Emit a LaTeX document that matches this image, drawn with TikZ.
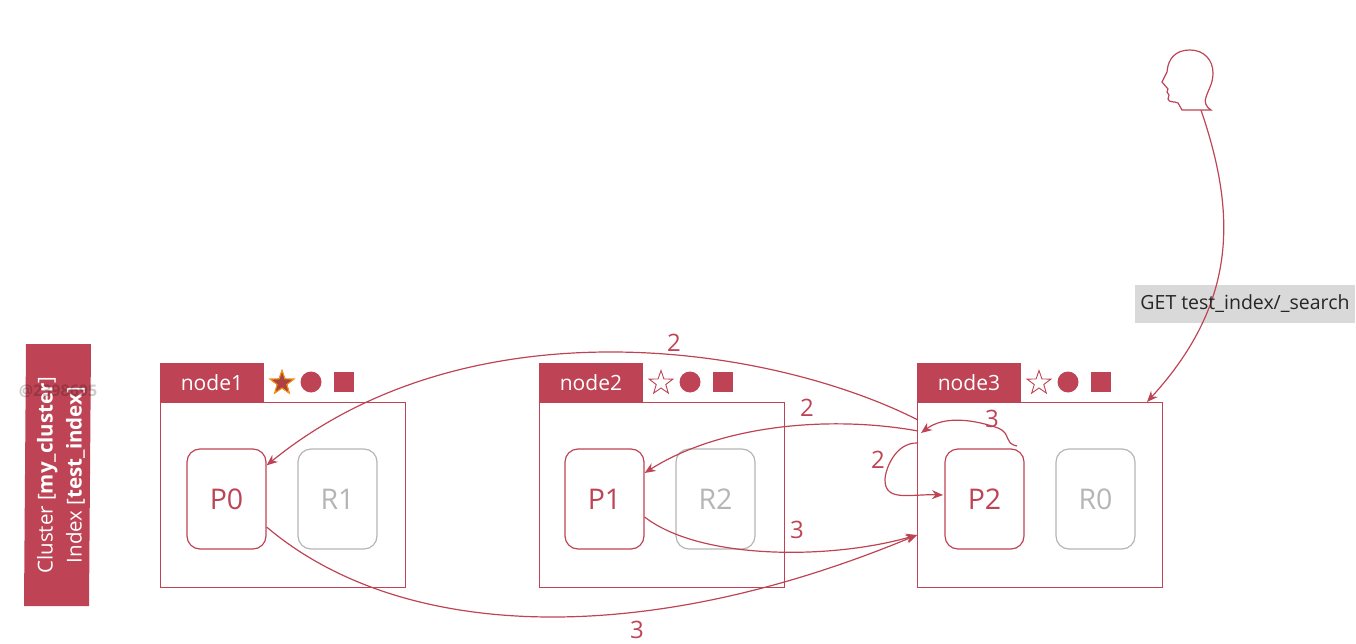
\documentclass[tikz,border=0pt]{standalone}
\usepackage{fontspec}
\setmainfont{Open Sans}
\usetikzlibrary{shapes.geometric,arrows.meta}
\definecolor{esred}{HTML}{BE4455}
\definecolor{esgray}{HTML}{B5B5B5}
\tikzset{
    tabnode/.style={fill=esred,text=white,minimum width=103.5pt,minimum height=39pt,inner sep=0pt,font=\fontsize{21}{25}\selectfont},
    boxnode/.style={draw=esred,line width=1.2pt,minimum width=244.5pt,minimum height=185pt,inner sep=0pt},
    shardnode/.style={draw=esred,line width=1.2pt,rounded corners=13pt,minimum width=79pt,minimum height=100pt,inner sep=0pt,text=esred,font=\fontsize{28.5}{32}\selectfont},
    replicanode/.style={shardnode,draw=esgray,text=esgray},
    starnode/.style={star,star points=5,star point ratio=2.5,draw=esred,line width=0.9pt,fill=white,minimum size=25pt,inner sep=0pt},
    dotnode/.style={circle,fill=esred,minimum size=21pt,inner sep=0pt},
    squarenode/.style={rectangle,fill=esred,minimum size=19.5pt,inner sep=0pt},
    numnode/.style={text=esred,inner sep=0pt,font=\fontsize{24}{28}\selectfont},
    conn/.style={draw=esred,line width=1.2pt,-{Stealth[length=11pt,width=9pt]}}
}
\begin{document}
\begin{tikzpicture}[x=1pt,y=-1pt]
    \useasboundingbox (0,0) rectangle (1356,644);
    % cluster label
    \fill [esred] (26,344) -- (91,344) -- (89,606) -- (24,606) -- cycle;
    \node (cluster) [text=white,rotate=90,align=center,inner sep=0pt,font=\fontsize{20.5}{29}\selectfont] at (61,475) {Cluster [\textbf{my\_cluster}]\\Index [\textbf{test\_index}]};
    \node (mark) [text=black,opacity=0.2,font=\bfseries\fontsize{16}{18}\selectfont,inner sep=0pt] at (58,391) {@2398695};
    % the three machines
    \foreach \n/\x/\cp/\cr/\p/\r in {1/160/226.5/337.5/P0/R1,2/539/604.5/715.5/P1/R2,3/917/984.5/1095.5/P2/R0} {
        \node (box\n) [boxnode,anchor=north west] at (\x,402) {};
        \node (tab\n) [tabnode,anchor=south west] at (\x,402) {node\n};
        \node (\p) [shardnode] at (\cp,499) {\p};
        \node (\r) [replicanode] at (\cr,499) {\r};
        \node (star\n) [starnode] at (\x+122,383) {};
        \node (dot\n) [dotnode] at (\x+151,382) {};
        \node (square\n) [squarenode] at (\x+184,382) {};
    }
    \node (star1) [starnode,draw=orange!80!yellow,fill=esred!85!black!90!orange] at (282,383) {};
    % client
    \draw [esred,line width=1.2pt] (1182,110) -- (1178,103) .. controls (1174,101) and (1169,103) .. (1168,99)
        -- (1169,95) -- (1167,92) -- (1168,89) -- (1162,82) -- (1167,72) .. controls (1168,58) and (1176,50) .. (1190,50)
        .. controls (1204,50) and (1213,60) .. (1213,73) .. controls (1213,84) and (1208,90) .. (1206,97)
        .. controls (1204,102) and (1206,107) .. (1211,110) -- cycle;
    \coordinate (head) at (1201,110);
    \node (get) [fill=black!15,minimum width=220pt,minimum height=38pt,inner sep=0pt] at (1245,304) {};
    \draw [conn] (head) .. controls (1235,210) and (1240,300) .. (1147,402);
    \node (gettext) [text=black!85,inner sep=0pt,font=\fontsize{19.5}{23}\selectfont] at (get) {GET test\_index/\_search};
    % requests
    \coordinate (a2) at (918,420);
    \coordinate (b2) at (918,431);
    \coordinate (c2) at (918,443);
    \coordinate (d3) at (1017,446);
    \coordinate (d4) at (921,433);
    \coordinate (e3) at (917,535);
    \coordinate (p2in) at (943,495);
    \draw [conn] (a2) .. controls (770,345) and (470,300) .. (P0.40);
    \draw [conn] (b2) .. controls (830,415) and (720,425) .. (P1.east |- 0,473);
    \draw [conn] (c2) .. controls (895,442) and (885,470) .. (885,480) .. controls (885,502) and (910,494) .. (p2in);
    \draw [conn] (d3) .. controls (1003,443) and (1012,434) .. (998,428) .. controls (975,420) and (945,415) .. (d4);
    \draw [conn] (P1.east |- 0,517) .. controls (700,560) and (830,560) .. (e3);
    \draw [conn] (P0.east |- 0,527) .. controls (400,640) and (640,650) .. (e3);
    % counts
    \node (n1) [numnode] at (674,343) {2};
    \node (n2) [numnode] at (807,408) {2};
    \node (n3) [numnode] at (992,419) {3};
    \node (n4) [numnode] at (878,460) {2};
    \node (n5) [numnode] at (797,530) {3};
    \node (n6) [numnode] at (637,630) {3};
\end{tikzpicture}
\end{document}
